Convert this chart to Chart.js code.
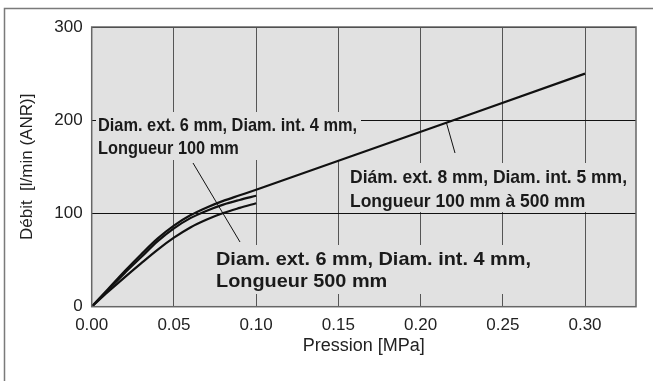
<!DOCTYPE html>
<html>
<head>
<meta charset="utf-8">
<script src="https://cdn.jsdelivr.net/npm/chart.js@4.4.0/dist/chart.umd.min.js"></script>
<style>
  body { margin: 0; background: #fff; }
  #wrap { width: 653px; height: 381px; }
</style>
</head>
<body>
<div id="wrap"><canvas id="myChart" width="653" height="381"></canvas></div>
<script>
// pressure [MPa] and flow [l/min (ANR)]
var pressure = [0, 0.01, 0.02, 0.03, 0.04, 0.05, 0.06, 0.07, 0.08, 0.09, 0.10];
var pressure8 = [0, 0.01, 0.02, 0.03, 0.04, 0.05, 0.06, 0.07, 0.08, 0.09, 0.10, 0.30];
var flow8mm = [0, 19, 38, 56, 73, 87, 98, 106.5, 113.5, 119.5, 125.5, 250];
var flow6mm100 = [0, 18, 36, 53, 70, 84, 95, 103, 109.5, 114.5, 119];
var flow6mm500 = [0, 16, 31.5, 46.5, 61, 74, 85, 93.5, 100.5, 106, 111];
var xTicks = [0, 0.05, 0.10, 0.15, 0.20, 0.25, 0.30];
var yTicks = [0, 100, 200, 300];

var labelTop = ["Diam. ext. 6 mm, Diam. int. 4 mm,", "Longueur 100 mm"];
var labelBottom = ["Diam. ext. 6 mm, Diam. int. 4 mm,", "Longueur 500 mm"];
var label8 = ["Diám. ext. 8 mm, Diam. int. 5 mm,", "Longueur 100 mm à 500 mm"];

function pts(xs, ys){
    var out = [];
    for (var i = 0; i < ys.length; i++) out.push({x: xs[i], y: ys[i]});
    return out;
}

var BG = '#e1e1e1';

// draws a two line label, squeezed to the width seen in the picture
function drawLabel(ctx, lines, x, base1, base2, width, box){
    ctx.save();
    ctx.fillStyle = BG;
    ctx.fillRect(box[0], box[1], box[2] - box[0], box[3] - box[1]);
    ctx.font = "bold 19px 'Liberation Sans', Arial, sans-serif";
    ctx.fillStyle = '#1a1a1a';
    ctx.textBaseline = 'alphabetic';
    ctx.textAlign = 'left';
    var s = width / ctx.measureText(lines[0]).width;
    ctx.translate(x, base1);
    ctx.scale(s, 1);
    ctx.fillText(lines[0], 0, 0);
    ctx.fillText(lines[1], 0, base2 - base1);
    ctx.restore();
}

function leader(ctx, x1, y1, x2, y2){
    ctx.save();
    ctx.strokeStyle = '#111';
    ctx.lineWidth = 1;
    ctx.beginPath();
    ctx.moveTo(x1, y1);
    ctx.lineTo(x2, y2);
    ctx.stroke();
    ctx.restore();
}

var decor = {
    id: 'decor',
    beforeDraw: function(chart){
        var a = chart.chartArea, ctx = chart.ctx;
        ctx.save();
        ctx.fillStyle = '#fff';
        ctx.fillRect(0, 0, chart.width, chart.height);
        ctx.fillStyle = BG;
        ctx.fillRect(a.left, a.top, a.right - a.left, a.bottom - a.top);
        // outer frame
        ctx.strokeStyle = '#7a7a7a';
        ctx.lineWidth = 1.5;
        ctx.beginPath();
        ctx.moveTo(4.5, chart.height);
        ctx.lineTo(4.5, 8.5);
        ctx.lineTo(chart.width, 8.5);
        ctx.stroke();
        ctx.restore();
    },
    beforeDatasetsDraw: function(chart){
        var ctx = chart.ctx;
        drawLabel(ctx, labelTop, 98, 130.5, 153.5, 259, [96, 112, 361, 160]);
        drawLabel(ctx, labelBottom, 216, 264.5, 286.5, 315, [212, 245, 536, 294]);
        drawLabel(ctx, label8, 350, 183, 207, 277, [346, 163, 632, 212]);
        leader(ctx, 193, 163, 240, 242);
        leader(ctx, 446.5, 123, 455, 153);
    },
    afterDraw: function(chart){
        var a = chart.chartArea, ctx = chart.ctx;
        ctx.save();
        ctx.strokeStyle = '#666';
        ctx.lineWidth = 1.5;
        ctx.strokeRect(a.left, a.top, a.right - a.left, a.bottom - a.top);
        ctx.restore();
    }
};

function main(){
    new Chart('myChart', {
        type: 'line',
        data: {
            datasets: [
                {
                    label: "8 mm",
                    data: pts(pressure8, flow8mm),
                    borderColor: '#111',
                    borderWidth: 2.2,
                    pointRadius: 0,
                    cubicInterpolationMode: 'monotone'
                },
                {
                    label: "6 mm 100 mm",
                    data: pts(pressure, flow6mm100),
                    borderColor: '#111',
                    borderWidth: 2.2,
                    pointRadius: 0,
                    cubicInterpolationMode: 'monotone'
                },
                {
                    label: "6 mm 500 mm",
                    data: pts(pressure, flow6mm500),
                    borderColor: '#111',
                    borderWidth: 2.2,
                    pointRadius: 0,
                    cubicInterpolationMode: 'monotone'
                }
            ]
        },
        options: {
            responsive: false,
            animation: false,
            layout: { padding: { top: 27, right: 17, left: 0, bottom: 0 } },
            plugins: {
                legend: { display: false },
                tooltip: { enabled: false }
            },
            scales: {
                x: {
                    type: 'linear',
                    min: 0,
                    max: 0.331,
                    afterBuildTicks: function(scale){
                        scale.ticks = xTicks.map(function(v){ return {value: v}; });
                    },
                    afterFit: function(scale){ scale.height = 74.3; },
                    grid: { color: '#555', lineWidth: 1, drawTicks: false },
                    border: { display: false },
                    ticks: {
                        padding: 8,
                        color: '#222',
                        font: { family: "'Liberation Sans', Arial, sans-serif", size: 17 },
                        callback: function(v){ return v.toFixed(2); }
                    },
                    title: {
                        display: true,
                        text: 'Pression [MPa]',
                        color: '#222',
                        padding: { top: 0, bottom: 24 },
                        font: { family: "'Liberation Sans', Arial, sans-serif", size: 18 }
                    }
                },
                y: {
                    min: 0,
                    max: 300,
                    afterBuildTicks: function(scale){
                        scale.ticks = yTicks.map(function(v){ return {value: v}; });
                    },
                    afterFit: function(scale){ scale.width = 91.7; },
                    grid: { color: '#111', lineWidth: 1, drawTicks: false },
                    border: { display: false },
                    ticks: {
                        padding: 9,
                        color: '#222',
                        font: { family: "'Liberation Sans', Arial, sans-serif", size: 17 }
                    },
                    title: {
                        display: true,
                        text: 'Débit  [l/min (ANR)]',
                        color: '#222',
                        padding: { top: 17, bottom: 0 },
                        font: { family: "'Liberation Sans', Arial, sans-serif", size: 17 }
                    }
                }
            }
        },
        plugins: [decor]
    });
}
main();
</script>
</body>
</html>
